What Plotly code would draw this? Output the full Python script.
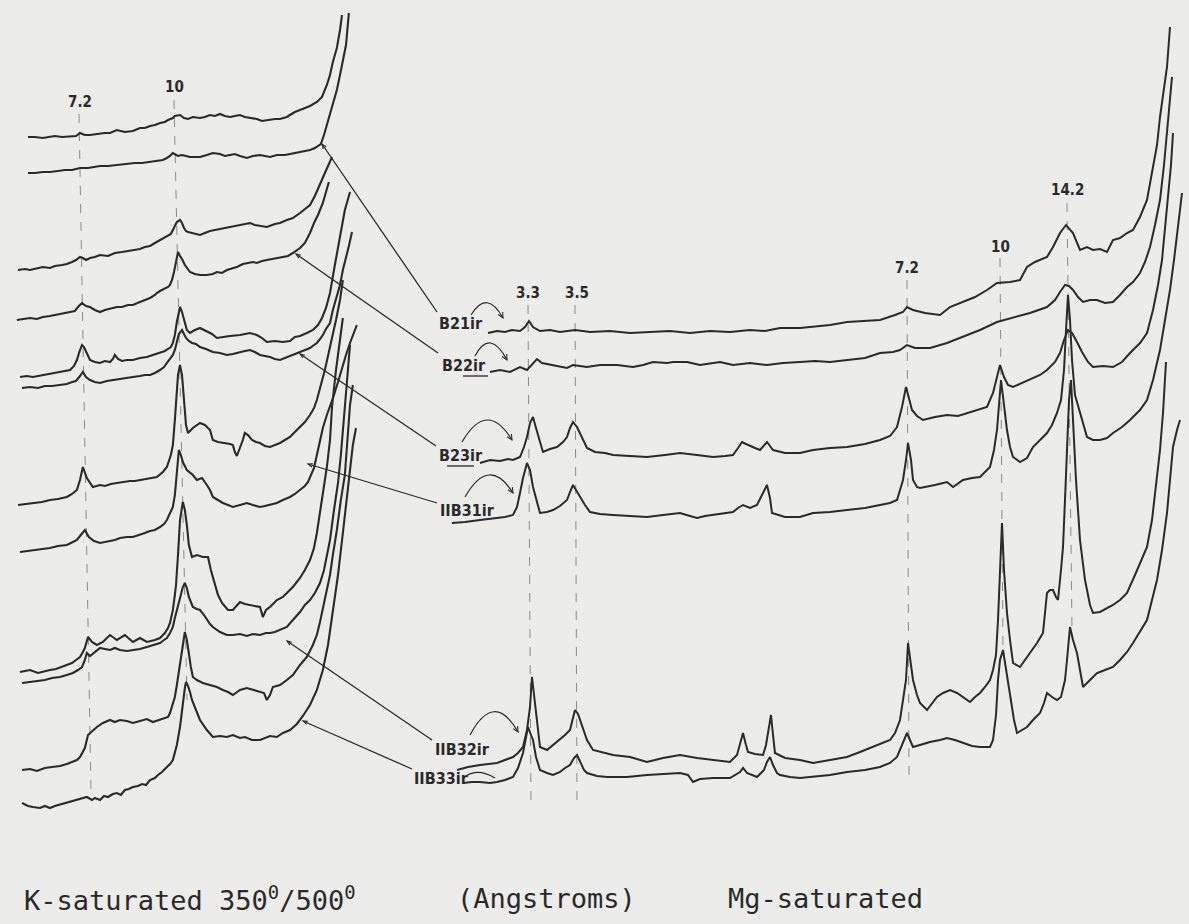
import math
import plotly.graph_objects as go

W, H = 1189, 924
INK = "#2a2a2a"
PAPER = "#ececea"

# ---------------- Data: 2-theta (deg) and recorded intensity (chart units) ----------------
samples = ["B21ir", "B22ir", "B23ir", "IIB31ir", "IIB32ir", "IIB33ir"]

# K-saturated, heated 350 deg (upper trace of each pair) and 500 deg (lower trace)
B21_K350_tt = [14.10,13.86,13.58,13.33,13.16,12.91,12.63,12.42,12.28,12.11,11.93,11.69,11.41,11.23,10.99,10.71,10.43,10.18,10.01,9.83,9.66,9.48,9.31,9.20,9.03,8.96,8.85,8.78,8.64,8.50,8.33,8.08,7.91,7.73,7.56,7.38,7.21,7.03,6.86,6.68,6.51,6.33,6.09,5.91,5.74,5.46,5.28,5.04,4.93,4.76,4.58,4.41,4.23,3.99,3.81,3.64,3.53,3.43,3.29,3.18,3.11]
B21_K350_i = [0,0,-1,0,1,0,1,1,4,2,2,3,4,4,7,5,6,9,9,11,12,14,15,17,19,21,22,22,19,18,20,19,20,22,21,23,21,20,21,22,20,19,18,16,17,18,18,20,22,25,27,29,31,35,40,52,62,75,89,107,122]

B21_K500_tt = [14.10,13.86,13.58,13.33,13.05,12.81,12.56,12.28,12.00,11.76,11.58,11.30,10.99,10.71,10.36,10.11,9.83,9.59,9.38,9.24,9.13,9.03,8.92,8.85,8.71,8.57,8.43,8.26,8.08,7.84,7.63,7.38,7.21,7.03,6.86,6.68,6.44,6.23,5.98,5.81,5.63,5.39,5.11,4.93,4.76,4.58,4.41,4.23,4.06,3.85,3.74,3.64,3.53,3.43,3.29,3.18,3.08,2.97,2.87]
B21_K500_i = [0,0,1,1,2,3,3,5,5,6,7,7,8,9,10,10,11,12,13,15,17,20,18,17,18,17,16,16,16,18,20,19,17,18,19,17,15,17,18,17,16,18,18,19,20,21,22,23,25,29,38,48,58,68,83,98,113,128,160]

B22_K350_tt = [14.45,14.21,14.03,13.79,13.58,13.33,13.16,12.91,12.74,12.56,12.42,12.28,12.18,12.07,11.93,11.76,11.58,11.30,11.06,10.81,10.60,10.43,10.18,10.01,9.83,9.66,9.48,9.31,9.20,9.10,9.03,8.96,8.89,8.78,8.71,8.64,8.57,8.50,8.36,8.26,8.08,7.91,7.73,7.56,7.38,7.14,6.93,6.68,6.51,6.33,6.16,5.98,5.74,5.46,5.28,5.04,4.83,4.58,4.41,4.23,4.06,3.88,3.74,3.60,3.46]
B22_K350_i = [0,1,0,2,3,2,4,5,6,8,10,13,12,10,12,13,15,14,17,18,19,20,21,23,24,27,30,33,34,36,40,44,48,50,47,42,39,38,37,36,35,37,39,40,41,42,43,45,46,47,45,44,43,46,47,50,52,57,61,65,74,85,95,104,113]

B22_K500_tt = [14.49,14.21,14.03,13.79,13.58,13.33,13.16,12.91,12.74,12.56,12.46,12.32,12.21,12.07,11.93,11.76,11.58,11.41,11.30,11.13,10.99,10.81,10.60,10.43,10.18,10.01,9.83,9.66,9.59,9.48,9.31,9.20,9.13,9.06,8.99,8.92,8.85,8.78,8.71,8.61,8.50,8.43,8.26,8.08,7.84,7.63,7.49,7.31,7.14,6.93,6.79,6.58,6.44,6.23,6.09,5.91,5.74,5.53,5.39,5.18,5.00,4.83,4.58,4.41,4.23,4.09,3.95,3.78,3.67,3.57]
B22_K500_i = [0,1,2,1,3,4,5,6,7,8,9,14,17,14,13,10,8,10,11,12,13,13,15,15,18,20,22,25,27,29,31,33,35,40,48,58,68,64,61,55,50,48,46,45,45,46,48,47,50,52,53,56,57,58,57,59,60,61,62,63,64,67,72,77,87,97,105,117,127,138]

B23_K350_tt = [14.38,14.14,13.93,13.58,13.33,13.09,12.84,12.63,12.49,12.39,12.28,12.21,12.14,12.07,11.93,11.76,11.58,11.41,11.23,11.13,11.06,10.95,10.81,10.64,10.43,10.18,9.94,9.73,9.48,9.31,9.20,9.10,9.03,8.96,8.89,8.78,8.71,8.64,8.54,8.43,8.26,8.08,7.84,7.66,7.49,7.28,7.03,6.68,6.33,6.09,5.91,5.74,5.46,5.18,4.93,4.76,4.58,4.34,4.13,3.95,3.81,3.67,3.53,3.36,3.18,3.01,2.83]
B23_K350_i = [0,1,0,2,3,5,6,7,11,17,27,32,30,25,17,15,14,16,15,18,22,18,16,17,17,19,20,22,24,26,28,30,34,42,55,70,65,57,47,44,47,49,46,43,39,40,41,42,44,42,39,35,36,35,36,40,41,44,47,52,59,69,84,112,142,167,185]

B23_K500_tt = [14.31,14.03,13.75,13.51,13.26,12.98,12.74,12.56,12.42,12.28,12.18,12.07,11.93,11.76,11.58,11.34,11.06,10.81,10.60,10.43,10.18,10.01,9.83,9.66,9.48,9.34,9.24,9.13,9.03,8.96,8.89,8.82,8.71,8.64,8.57,8.47,8.36,8.22,8.08,7.87,7.63,7.38,7.14,6.93,6.68,6.51,6.33,6.16,5.98,5.81,5.63,5.46,5.28,5.11,4.93,4.76,4.58,4.41,4.23,4.09,3.99,3.88,3.78,3.67,3.53,3.43,3.29,3.18,3.08,2.97,2.87,2.76]
B23_K500_i = [0,1,0,2,2,3,4,6,7,12,16,11,8,6,5,7,8,9,10,11,12,13,13,15,18,21,25,29,33,38,46,54,58,54,50,47,45,44,41,39,36,35,33,34,36,37,38,36,33,32,31,29,28,30,32,34,36,38,40,43,45,49,53,59,65,78,91,103,118,130,142,156]

B31_K350_tt = [14.45,14.21,13.86,13.61,13.33,13.05,12.74,12.56,12.39,12.28,12.18,12.04,11.83,11.58,11.41,11.20,10.99,10.78,10.53,10.36,10.18,10.01,9.83,9.59,9.38,9.24,9.10,9.03,8.96,8.89,8.85,8.78,8.71,8.64,8.57,8.50,8.33,8.08,7.91,7.73,7.63,7.45,7.21,7.03,6.93,6.86,6.79,6.68,6.58,6.51,6.40,6.26,6.12,5.98,5.81,5.63,5.46,5.28,5.11,4.93,4.76,4.58,4.41,4.23,4.09,3.99,3.85,3.71,3.57,3.43,3.32,3.18,3.08]
B31_K350_i = [0,1,2,3,5,6,8,11,15,25,38,27,18,20,19,21,22,23,24,24,25,26,27,28,33,38,50,60,85,110,130,140,130,105,80,72,77,82,80,75,65,63,62,61,60,53,49,57,65,72,70,65,63,62,59,58,60,62,65,68,73,78,83,90,97,105,120,135,153,170,185,205,225]

B31_K500_tt = [14.38,14.10,13.86,13.61,13.33,13.05,12.74,12.53,12.39,12.28,12.21,12.11,11.97,11.79,11.58,11.41,11.23,11.06,10.88,10.64,10.43,10.18,10.01,9.83,9.66,9.48,9.34,9.24,9.13,9.03,8.96,8.89,8.82,8.75,8.68,8.54,8.43,8.33,8.19,8.01,7.84,7.73,7.63,7.45,7.28,7.10,6.93,6.68,6.44,6.23,5.98,5.81,5.63,5.39,5.18,4.93,4.76,4.58,4.41,4.30,4.20,4.09,3.99,3.88,3.78,3.64,3.53,3.39,3.25,3.11,2.97,2.83,2.69,2.59]
B31_K500_i = [0,1,2,3,4,6,7,10,12,16,19,22,15,11,9,10,11,12,14,15,15,17,19,21,22,25,28,32,38,45,57,82,102,97,90,82,79,77,72,74,67,62,55,52,49,47,45,47,49,47,45,46,47,49,52,55,58,62,66,70,76,84,97,112,124,137,145,157,170,184,197,209,219,227]

B32_K350_tt = [14.38,14.21,14.03,13.75,13.51,13.33,13.12,12.91,12.74,12.56,12.42,12.28,12.18,12.11,12.00,11.93,11.86,11.69,11.48,11.23,10.99,10.71,10.43,10.18,9.94,9.66,9.48,9.31,9.20,9.13,9.03,8.96,8.92,8.85,8.78,8.68,8.61,8.54,8.47,8.36,8.19,7.98,7.80,7.70,7.59,7.45,7.31,7.10,6.93,6.68,6.51,6.33,6.16,5.98,5.88,5.77,5.63,5.39,5.18,4.83,4.58,4.41,4.23,4.09,3.99,3.81,3.64,3.53,3.46,3.32,3.18,3.08]
B32_K350_i = [0,1,2,-1,1,2,3,5,7,9,12,15,20,24,35,32,30,27,30,37,32,37,30,34,30,32,34,39,44,49,62,77,87,117,152,170,162,147,127,115,117,115,115,102,90,77,69,62,62,70,68,67,66,65,55,62,65,72,75,85,94,102,112,124,139,172,205,232,265,302,332,354]

B32_K500_tt = [14.31,14.03,13.75,13.51,13.26,12.98,12.74,12.53,12.35,12.21,12.11,12.04,11.93,11.76,11.58,11.41,11.23,11.06,10.88,10.64,10.43,10.18,9.94,9.73,9.48,9.34,9.24,9.13,9.03,8.96,8.89,8.82,8.75,8.68,8.61,8.54,8.47,8.40,8.33,8.19,8.08,7.94,7.84,7.73,7.63,7.49,7.38,7.14,6.93,6.68,6.44,6.23,5.98,5.77,5.63,5.46,5.28,5.04,4.83,4.58,4.41,4.23,4.06,3.88,3.74,3.64,3.53,3.39,3.25,3.15,3.08,2.97,2.83]
B32_K500_i = [0,1,2,3,5,6,8,10,13,16,23,30,27,31,35,34,33,35,33,32,33,34,36,38,40,43,45,50,56,65,73,83,90,96,100,95,86,80,76,74,73,68,63,59,56,53,51,48,48,49,47,49,48,50,50,51,53,56,63,71,78,83,90,100,113,128,143,173,200,228,253,283,338]

B33_K350_tt = [14.31,14.03,13.79,13.51,13.26,12.98,12.74,12.53,12.39,12.28,12.18,12.11,12.00,11.93,11.83,11.69,11.48,11.23,11.06,10.88,10.64,10.43,10.18,9.94,9.73,9.48,9.31,9.20,9.13,9.06,8.96,8.89,8.78,8.71,8.64,8.61,8.54,8.47,8.40,8.33,8.19,7.98,7.73,7.49,7.28,7.10,6.93,6.68,6.44,6.23,5.98,5.84,5.74,5.63,5.53,5.28,5.04,4.83,4.58,4.34,4.13,3.99,3.88,3.71,3.53,3.43,3.29,3.15,3.01,2.83,2.73]
B33_K350_i = [0,1,-1,2,3,4,6,8,10,13,18,22,35,37,40,43,47,50,48,50,49,47,49,51,48,50,52,53,57,63,73,85,107,123,133,138,130,115,103,93,90,87,85,83,80,78,75,80,82,80,78,77,70,75,83,85,90,95,105,113,125,135,148,170,195,215,240,270,295,365,385]

B33_K500_tt = [14.31,14.10,13.93,13.68,13.51,13.33,13.16,12.91,12.74,12.46,12.21,12.04,11.86,11.76,11.58,11.44,11.30,11.13,10.99,10.85,10.71,10.57,10.43,10.25,10.11,9.97,9.83,9.66,9.55,9.41,9.24,9.13,9.03,8.96,8.89,8.78,8.68,8.61,8.57,8.50,8.43,8.36,8.22,8.08,7.84,7.63,7.38,7.14,6.93,6.68,6.51,6.26,5.98,5.81,5.63,5.39,5.18,4.93,4.69,4.48,4.23,3.99,3.78,3.60,3.43,3.25,3.08,2.94,2.83,2.73,2.62]
B33_K500_i = [0,-3,-4,-5,-3,-5,-3,-1,1,3,5,6,3,5,3,7,6,9,10,8,13,14,16,17,19,18,23,25,28,31,36,39,43,51,58,76,103,115,121,117,111,103,93,83,73,66,67,66,68,65,66,63,63,65,67,66,70,73,79,87,98,113,133,158,190,228,270,308,336,358,375]

# Mg-saturated, air dried
B21_Mg_tt = [28.68,28.32,28.00,27.72,27.40,27.20,27.04,26.88,26.60,26.20,25.80,25.20,24.60,23.80,23.00,22.20,21.40,20.60,19.80,19.00,18.20,17.60,17.00,16.20,15.68,15.00,14.32,13.60,13.00,12.40,12.08,11.92,11.68,11.20,10.60,10.20,9.80,9.20,8.72,8.32,7.80,7.40,7.12,6.80,6.32,6.08,5.80,5.56,5.28,5.00,4.72,4.48,4.20,3.92,3.68,3.40,3.12,2.88,2.60,2.32,2.08,1.92,1.80,1.64,1.52,1.40]
B21_Mg_i = [0,2,1,3,2,6,12,6,2,3,1,3,1,2,0,1,2,0,2,1,3,2,5,5,6,8,11,12,13,18,21,26,23,20,18,26,30,36,43,50,51,53,66,71,76,86,100,108,100,83,86,83,84,81,93,95,100,103,116,133,166,188,216,243,266,306]

B22_Mg_tt = [28.60,28.20,27.80,27.40,27.12,26.92,26.72,26.52,26.08,25.52,25.28,24.72,24.20,23.52,22.88,22.48,22.08,21.52,21.28,20.72,20.20,19.40,18.88,18.20,17.52,16.88,16.20,15.60,15.00,14.32,13.60,13.00,12.48,12.20,11.92,11.60,11.00,10.32,9.68,9.00,8.32,8.00,7.68,7.00,6.32,6.00,5.80,5.60,5.44,5.28,5.08,4.88,4.60,4.32,4.00,3.68,3.40,3.12,2.88,2.60,2.40,2.20,2.00,1.80,1.64,1.52,1.40,1.32]
B22_Mg_i = [0,2,0,5,2,7,13,9,7,4,7,5,7,7,5,7,10,9,10,10,7,10,7,9,7,9,10,11,10,12,14,19,20,22,27,24,24,29,35,42,50,52,54,59,65,72,80,87,86,82,75,70,72,72,69,70,77,85,90,99,110,125,147,172,207,239,272,295]

B23_Mg_tt = [29.00,28.60,28.20,27.88,27.68,27.40,27.24,27.12,27.00,26.88,26.76,26.60,26.48,26.20,25.92,25.68,25.52,25.40,25.28,25.12,25.00,24.84,24.72,24.40,24.00,23.68,23.00,22.32,21.60,21.00,20.32,19.68,19.20,18.88,18.68,18.52,18.36,18.20,18.00,17.80,17.64,17.52,17.40,17.28,16.80,16.20,15.68,15.00,14.32,13.60,13.00,12.60,12.32,12.12,11.96,11.84,11.72,11.52,11.28,10.80,10.32,9.88,9.52,9.08,8.72,8.48,8.32,8.20,8.04,7.88,7.68,7.40,7.00,6.60,6.32,6.00,5.80,5.64,5.48,5.32,5.12,4.92,4.68,4.48,4.08,3.68,3.32,3.00,2.60,2.32,2.08,1.88,1.72,1.60,1.48,1.36,1.28]
B23_Mg_i = [0,3,2,4,3,6,16,26,40,46,35,20,11,14,16,21,26,35,41,36,30,21,15,11,10,8,7,6,8,10,8,6,7,8,15,21,19,17,15,13,18,21,17,13,10,10,13,15,16,19,23,27,36,56,76,65,53,47,43,46,48,47,50,53,56,70,85,98,86,78,76,79,83,88,93,101,110,123,133,130,121,111,101,96,97,96,101,110,120,130,153,178,203,233,263,298,330]

B31_Mg_tt = [30.12,29.60,29.00,28.40,28.00,27.68,27.52,27.40,27.28,27.12,27.00,26.88,26.72,26.60,26.32,26.08,25.80,25.52,25.40,25.28,25.16,25.00,24.80,24.60,24.20,23.68,23.00,22.32,21.68,21.00,20.60,20.32,20.00,19.68,19.20,18.88,18.68,18.48,18.20,17.92,17.68,17.52,17.40,17.32,16.80,16.20,15.68,15.00,14.32,13.60,13.00,12.60,12.32,12.08,11.96,11.88,11.76,11.68,11.52,11.40,10.80,10.32,10.08,9.68,9.32,9.00,8.60,8.44,8.32,8.24,8.16,8.04,7.92,7.80,7.68,7.40,7.12,6.88,6.60,6.32,6.12,5.92,5.76,5.64,5.56,5.48,5.40,5.32,5.20,5.00,4.84,4.72,4.48,4.20,3.92,3.68,3.32,3.00,2.60,2.32,2.08,1.80,1.60,1.40,1.24,1.08,0.92]
B31_Mg_i = [0,1,3,5,6,8,16,30,45,60,53,36,20,10,11,13,17,23,31,38,33,26,18,11,9,8,7,6,8,10,7,5,7,8,10,11,15,18,15,18,30,38,25,10,6,6,10,11,13,15,18,20,23,43,63,80,63,43,36,35,38,41,36,43,45,46,56,73,93,118,143,118,93,76,66,61,65,76,83,90,98,110,123,153,193,228,203,163,128,110,95,86,83,83,85,90,96,103,113,123,143,173,203,233,263,298,330]

B32_Mg_tt = [29.92,29.48,29.00,28.60,28.32,28.00,27.68,27.48,27.28,27.12,27.00,26.92,26.84,26.76,26.68,26.60,26.32,26.08,25.80,25.60,25.40,25.28,25.20,25.08,25.00,24.84,24.72,24.48,24.20,23.68,23.00,22.32,21.68,21.00,20.32,19.68,19.00,18.72,18.60,18.48,18.36,18.28,18.00,17.68,17.56,17.48,17.36,17.28,17.20,16.80,16.20,15.68,15.00,14.32,13.80,13.28,12.92,12.60,12.40,12.20,12.08,11.96,11.88,11.80,11.68,11.52,11.40,11.12,10.92,10.72,10.48,10.20,9.92,9.68,9.40,9.20,9.00,8.80,8.60,8.48,8.36,8.28,8.20,8.12,8.04,7.92,7.80,7.68,7.40,7.20,7.00,6.72,6.48,6.32,6.20,6.08,5.96,5.88,5.76,5.68,5.60,5.52,5.44,5.36,5.28,5.16,5.00,4.80,4.60,4.48,4.20,3.92,3.68,3.40,3.12,2.80,2.48,2.32,2.12,1.92,1.80,1.68,1.56]
B32_Mg_i = [0,3,5,6,7,10,13,17,23,40,63,93,75,55,35,23,20,25,30,35,40,52,60,56,50,38,30,20,18,15,13,8,12,15,12,10,8,15,25,37,25,18,16,15,25,37,55,35,17,12,10,7,10,13,18,23,27,30,37,50,70,90,127,110,90,75,67,60,67,73,77,80,77,73,68,73,77,83,90,100,115,150,200,247,200,157,130,107,103,110,117,127,137,177,180,180,173,170,200,223,270,323,370,390,350,290,230,190,165,157,158,162,165,170,177,195,215,223,250,290,320,357,408]

B33_Mg_tt = [29.68,29.32,29.00,28.60,28.32,28.00,27.68,27.48,27.28,27.16,27.08,26.96,26.88,26.76,26.60,26.32,26.08,25.80,25.60,25.40,25.24,25.12,25.00,24.84,24.72,24.32,23.92,23.12,22.32,21.60,21.00,20.68,20.48,20.20,19.68,19.00,18.60,18.48,18.32,17.92,17.64,17.52,17.40,17.28,17.12,17.00,16.60,16.20,15.68,15.00,14.32,13.60,13.00,12.60,12.32,12.12,12.00,11.92,11.80,11.68,11.40,11.00,10.60,10.32,10.00,9.68,9.32,9.00,8.60,8.48,8.36,8.28,8.20,8.08,7.96,7.80,7.64,7.52,7.32,7.12,6.88,6.60,6.44,6.32,6.12,5.92,5.76,5.60,5.52,5.40,5.28,5.12,5.00,4.88,4.60,4.32,4.00,3.68,3.40,3.12,2.88,2.60,2.32,2.12,1.92,1.72,1.52,1.40,1.28,1.12,1.00]
B33_Mg_i = [0,1,1,0,1,3,6,15,30,45,56,48,43,26,13,10,8,11,15,18,25,28,21,13,10,7,6,6,8,9,10,8,1,4,5,5,11,15,10,6,13,21,26,18,10,8,6,5,6,8,11,13,16,20,26,38,46,50,43,36,38,41,43,45,43,40,37,36,36,43,68,103,123,133,113,86,63,50,53,56,63,70,80,90,86,83,86,103,123,156,143,130,113,96,103,110,113,116,123,131,140,151,163,183,203,233,270,303,336,353,363]

# vertical stacking offsets of each recorded trace (chart units)
k_offsets = [787, 751, 654, 604, 547, 536, 419, 372, 252, 241, 154, 121]
mg_offsets = [591, 552, 461, 401, 154, 141]

k_traces = [(B21_K350_tt, B21_K350_i), (B21_K500_tt, B21_K500_i),
            (B22_K350_tt, B22_K350_i), (B22_K500_tt, B22_K500_i),
            (B23_K350_tt, B23_K350_i), (B23_K500_tt, B23_K500_i),
            (B31_K350_tt, B31_K350_i), (B31_K500_tt, B31_K500_i),
            (B32_K350_tt, B32_K350_i), (B32_K500_tt, B32_K500_i),
            (B33_K350_tt, B33_K350_i), (B33_K500_tt, B33_K500_i)]
mg_traces = [(B21_Mg_tt, B21_Mg_i), (B22_Mg_tt, B22_Mg_i), (B23_Mg_tt, B23_Mg_i),
             (B31_Mg_tt, B31_Mg_i), (B32_Mg_tt, B32_Mg_i), (B33_Mg_tt, B33_Mg_i)]

k_peak_labels = ["7.2", "10"]
mg_peak_labels = ["3.3", "3.5", "7.2", "10", "14.2"]

for t, i in k_traces + mg_traces:
    assert len(t) == len(i), (len(t), len(i))

# ---------------- Figure ----------------
fig = go.Figure()
for (tt, inten), off in zip(k_traces, k_offsets):
    fig.add_trace(go.Scatter(x=tt, y=[off + v for v in inten], mode="lines",
                             line=dict(color=INK, width=2.1), xaxis="x", yaxis="y",
                             hoverinfo="skip", showlegend=False))
for (tt, inten), off in zip(mg_traces, mg_offsets):
    fig.add_trace(go.Scatter(x=tt, y=[off + v for v in inten], mode="lines",
                             line=dict(color=INK, width=2.0), xaxis="x2", yaxis="y",
                             hoverinfo="skip", showlegend=False))


def P(x, y):
    return x / W, 1 - y / H


shapes = []
annotations = []


def seg(x0, y0, x1, y1, color=INK, width=1.2, dash=None, layer="above"):
    a, b = P(x0, y0)
    c, d = P(x1, y1)
    ln = dict(color=color, width=width)
    if dash:
        ln["dash"] = dash
    shapes.append(dict(type="line", xref="paper", yref="paper", x0=a, y0=b, x1=c, y1=d,
                       line=ln, layer=layer))


def head(tip, frm, size=6.0, spread=0.45, width=1.2):
    """small open arrow head at `tip`, pointing away from `frm` (screen pixels)"""
    dx, dy = tip[0] - frm[0], tip[1] - frm[1]
    ang = math.atan2(dy, dx)
    pts = []
    for s in (-spread, spread):
        pts.append((tip[0] - size * math.cos(ang + s), tip[1] - size * math.sin(ang + s)))
    a = P(*pts[0]); t = P(*tip); b = P(*pts[1])
    shapes.append(dict(type="path", xref="paper", yref="paper",
                       path=f"M {a[0]},{a[1]} L {t[0]},{t[1]} L {b[0]},{b[1]}",
                       line=dict(color=INK, width=width)))


def text(x, y, s, size=15, anchor="center", family="DejaVu Sans Condensed", bold=True):
    a, b = P(x, y)
    annotations.append(dict(x=a, y=b, xref="paper", yref="paper", text=(f"<b>{s}</b>" if bold else s),
                            showarrow=False, xanchor=anchor, yanchor="middle",
                            font=dict(family=family, size=size, color=INK)))


# reference lines at the d-spacings
GRID = "#8a8a8a"
seg(79, 114, 91, 792, GRID, 1, "dash", "below")
seg(174, 100, 187, 700, GRID, 1, "dash", "below")
seg(528, 305, 531, 805, GRID, 1, "dash", "below")
seg(575, 305, 577, 805, GRID, 1, "dash", "below")
seg(907, 280, 909, 775, GRID, 1, "dash", "below")
seg(1000, 258, 1003, 650, GRID, 1, "dash", "below")
seg(1067, 203, 1072, 630, GRID, 1, "dash", "below")

# d-spacing labels
for (x, y), s in zip([(80, 102), (174, 87)], k_peak_labels):
    text(x, y, s, 15)
for (x, y), s in zip([(528, 293), (577, 293), (907, 268), (1000, 247), (1067, 190)], mg_peak_labels):
    text(x, y, s, 15)

# sample labels
label_pos = [(437, 323), (440, 366), (437, 455), (438, 510), (433, 749), (412, 778)]
for (x, y), s in zip(label_pos, samples):
    text(x, y, s, 16, anchor="left")

# leader lines from K-saturated traces to labels (small arrow at the trace end)
for x0, y0, x1, y1 in [(322, 144, 437, 312), (296, 254, 438, 353), (300, 354, 436, 446),
                       (308, 464, 437, 503), (287, 641, 432, 740), (303, 721, 412, 769)]:
    seg(x0, y0, x1, y1, INK, 1.3)
    head((x0, y0), (x1, y1), size=5, spread=0.35, width=1.1)

# hand underlines
seg(463, 376, 488, 376, INK, 1.3)
seg(447, 466, 474, 466, INK, 1.3)

# curved arrows from labels to the Mg traces
arcs = [((471, 315), (487, 289), (503, 318)),
        ((475, 356), (490, 328), (507, 360)),
        ((462, 442), (487, 399), (512, 440)),
        ((465, 497), (489, 455), (513, 493)),
        ((470, 735), (494, 690), (518, 732))]
for p0, c, p1 in arcs:
    a, b = P(*p0)
    cx, cy = P(*c)
    e, f = P(*p1)
    shapes.append(dict(type="path", xref="paper", yref="paper",
                       path=f"M {a},{b} Q {cx},{cy} {e},{f}",
                       line=dict(color=INK, width=1.2)))
    head(p1, c, size=6, spread=0.45, width=1.1)
a, b = P(466, 776)
c1x, c1y = P(475, 770)
c2x, c2y = P(485, 772)
e, f = P(495, 778)
shapes.append(dict(type="path", xref="paper", yref="paper",
                   path=f"M {a},{b} C {c1x},{c1y} {c2x},{c2y} {e},{f}",
                   line=dict(color=INK, width=1.1)))

# bottom captions
MONO = "DejaVu Sans Mono"
text(22, 898, "K-saturated 350<sup>0</sup>/500<sup>0</sup>", 27, anchor="left", family=MONO, bold=False)
text(455, 898, "(Angstroms)", 27, anchor="left", family=MONO, bold=False)
text(726, 898, "Mg-saturated", 27, anchor="left", family=MONO, bold=False)

fig.update_layout(
    width=W, height=H, margin=dict(l=0, r=0, t=0, b=0),
    paper_bgcolor=PAPER, plot_bgcolor=PAPER,
    xaxis=dict(domain=[0, 370 / W], range=[15.08, 2.13], visible=False),
    xaxis2=dict(domain=[380 / W, 1], range=[33.0, 0.64], visible=False, anchor="y"),
    yaxis=dict(domain=[0, 1], range=[0, H], visible=False),
    shapes=shapes, annotations=annotations, showlegend=False,
)

fig.write_html("out.html", config={"displayModeBar": False},
               post_script="document.body.style.margin='0';document.body.style.overflow='hidden';")
